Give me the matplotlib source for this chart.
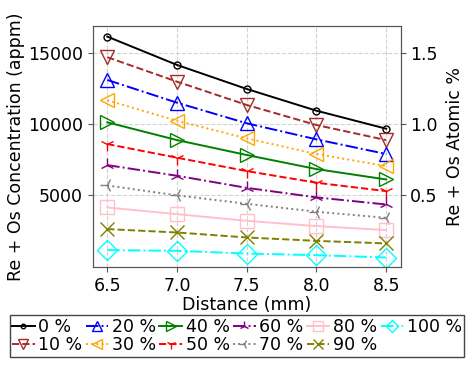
import numpy as np
import matplotlib
matplotlib.use("Agg")
import matplotlib.pyplot as plt

plt.rcParams['font.family'] = ['DejaVu Sans']
plt.rcParams['font.size'] = 12.5

distance = [6.5, 7.0, 7.5, 8.0, 8.5]
labels = ['0 %', '10 %', '20 %', '30 %', '40 %', '50 %',
          '60 %', '70 %', '80 %', '90 %', '100 %']

# Re + Os concentration (appm), one row per series
conc = [
    [16150, 14155, 12465, 10937, 9670],
    [14700, 12980, 11340, 9930, 8870],
    [13100, 11500, 10050, 8920, 7890],
    [11670, 10230, 8990, 7890, 7040],
    [10120, 8870, 7820, 6830, 6100],
    [8590, 7630, 6690, 5870, 5280],
    [7110, 6360, 5510, 4840, 4340],
    [5680, 4980, 4390, 3830, 3400],
    [4130, 3660, 3190, 2820, 2540],
    [2610, 2370, 2020, 1780, 1600],
    [1130, 1080, 890, 775, 610],
]

colors = ['black', 'brown', 'blue', 'orange', 'green', 'red',
          'purple', 'gray', 'pink', 'olive', 'cyan']
markers = ['o', 'v', '^', '<', '>', '1', '2', '3', 's', 'x', 'D']
styles = ['-', '--', '-.', ':']

fig = plt.figure(figsize=(4.74, 3.65), dpi=100)
ax = fig.add_axes([0.196, 0.268, 0.649, 0.661])

for i, (lab, y) in enumerate(zip(labels, conc)):
    ms = 5 if markers[i] == 'o' else 10
    ax.plot(distance, y, color=colors[i], linestyle=styles[i % 4],
            marker=markers[i], markersize=ms, markerfacecolor='none',
            linewidth=1.4, label=lab)

ax.set_xticks(distance)
ax.set_xlim(6.397, 8.603)
ylim = (-70, 16900)
ax.set_ylim(ylim)
ax.set_yticks([5000, 10000, 15000])
ax.grid(True, linestyle='--', color='lightgray', linewidth=0.8)
ax.set_xlabel('Distance (mm)', labelpad=1)
ax.set_ylabel('Re + Os Concentration (appm)', labelpad=2)

ax2 = ax.twinx()
ax2.set_ylim(ylim[0] / 10000, ylim[1] / 10000)
ax2.set_yticks([0.5, 1.0, 1.5])
ax2.set_ylabel('Re + Os Atomic %', labelpad=6)

for a in (ax, ax2):
    for s in a.spines.values():
        s.set_color('#555555')
    a.tick_params(colors='#555555', labelcolor='black')

handles, labs = ax.get_legend_handles_labels()
fig.legend(handles, labs, loc='upper center', bbox_to_anchor=(0.5, 0.137),
           ncol=6, fontsize=12.5, markerscale=0.65, handlelength=1.3,
           handletextpad=0.2, columnspacing=0.2, borderpad=0.15,
           labelspacing=0.05, borderaxespad=0, fancybox=False,
           edgecolor='#444444', framealpha=1)

fig.savefig('out.png', dpi=100)
